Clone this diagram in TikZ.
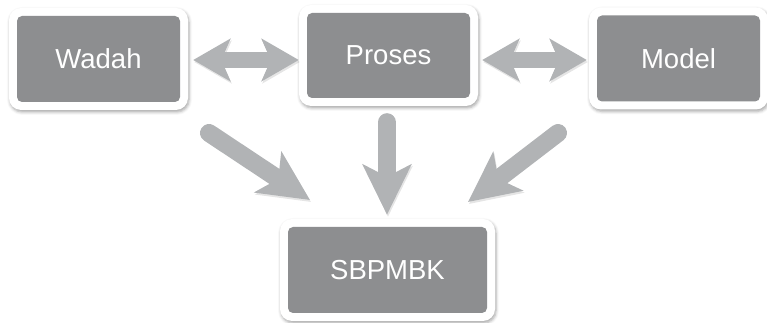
\documentclass[tikz,border=0pt]{standalone}
\usepackage{fontspec}
\setmainfont{Liberation Sans}
\usetikzlibrary{arrows.meta, shadows.blur, calc}
\definecolor{boxgray}{RGB}{141,142,144}
\definecolor{arrowgray}{RGB}{177,179,181}

\begin{document}
\begin{tikzpicture}[
    x = 1pt, y = 1pt,
    box/.style = { fill = white, rounded corners = 12pt,
        minimum width = 179pt, minimum height = 102pt, text = white,
        font = \fontsize{27.5}{33}\selectfont,
        blur shadow={shadow xshift=1pt,shadow yshift=-2pt,shadow blur radius=3pt,shadow opacity=35},
        path picture = {
            \fill[boxgray, rounded corners = 5pt]
                ([shift = {(8pt, 8pt)}] path picture bounding box.south west) rectangle
                ([shift = {(-8pt, -8pt)}] path picture bounding box.north east);
        } },
    twoway/.style = { draw = arrowgray, line width = 16pt,
        {Stealth[length = 37pt, width = 42pt, inset = 9pt]}-{Stealth[length = 37pt, width = 42pt, inset = 9pt]} },
    oneway/.style = { draw = arrowgray, line width = 18pt, line cap = round,
        -{Stealth[length = 50pt, width = 48pt, inset = 12pt]} },
    lift/.style = { preaction = { draw = black, opacity = .1, transform canvas = { shift = { (1pt, -2pt) } } } }
]
    \useasboundingbox (0, 0) rectangle (767, 323);

    \node[box] (wadah) at (98.5, 264) {Wadah};
    \node[box, minimum height = 101pt] (proses) at (388.5, 267.5) {Proses};
    \node[box] (model) at (678.5, 264.5) {Model};
    \node[box, minimum width = 215pt] (sbpmbk) at (387.5, 53) {SBPMBK};

    \coordinate (wtail) at (209, 190);
    \coordinate (wtip) at (310, 123);
    \coordinate (mtail) at (558, 190);
    \coordinate (mtip) at (468, 121);

    \draw[lift, twoway] ($(wadah.east) + (5, -1)$) coordinate (wp) -- (wp -| proses.west);
    \draw[lift, twoway, shorten > = 2pt] ($(proses.east) + (4, -4.5)$) coordinate (pm) -- (pm -| model.west);
    \draw[lift, oneway, shorten > = 4pt] ($(proses.south) + (-1.5, -16)$) coordinate (ps) -- (ps |- sbpmbk.north);
    \draw[lift, oneway] (wtail) -- (wtip);
    \draw[lift, oneway] (mtail) -- (mtip);
\end{tikzpicture}
\end{document}
